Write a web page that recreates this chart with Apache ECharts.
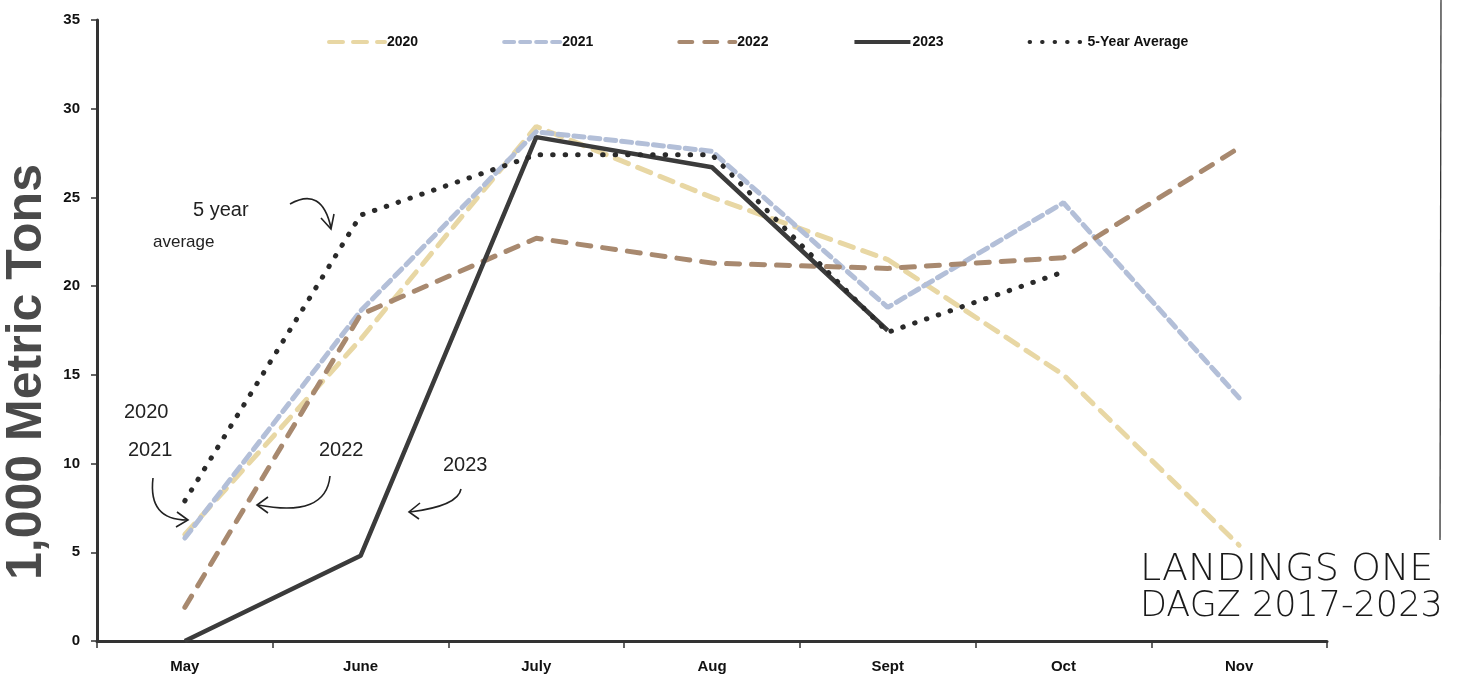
<!DOCTYPE html>
<html>
<head>
<meta charset="utf-8">
<script src="https://cdn.jsdelivr.net/npm/echarts@6/dist/echarts.min.js"></script>
<style>
  html, body { margin: 0; padding: 0; background: #fff; }
  #chart { width: 1475px; height: 684px; }
</style>
</head>
<body>
<div id="chart"></div>
<script>
// months on the x axis
let months = ['May', 'June', 'July', 'Aug', 'Sept', 'Oct', 'Nov'];

// landings, 1,000 metric tons
let y2020 = [6.0, 17.0, 29.0, 25.0, 21.5, 15.0, 5.4];
let y2021 = [5.8, 18.6, 28.7, 27.6, 18.8, 24.7, 13.7];
let y2022 = [1.9, 18.4, 22.7, 21.3, 21.0, 21.6, 27.8];
let y2023 = [0, 4.8, 28.4, 26.7, 17.5, null, null];
let avg5 = [7.9, 24.0, 27.4, 27.4, 17.4, 20.8, null];

let seriesNames = ['2020', '2021', '2022', '2023', '5-Year Average'];

let font = '"Liberation Sans Narrow", "Arial Narrow", "Liberation Sans", Arial, sans-serif';

let chart = echarts.init(document.getElementById('chart'));

// little helper for the hand drawn arrows
function arrow(x1, y1, cx, cy, x2, y2, head){
  return [
    {type:'bezierCurve', shape:{x1:x1, y1:y1, cpx1:cx, cpy1:cy, x2:x2, y2:y2},
     style:{stroke:'#222', lineWidth:1.6, fill:null}, z:50},
    {type:'polyline', shape:{points:head},
     style:{stroke:'#222', lineWidth:1.6, fill:null}, z:50}
  ];
}

let annot = [
  // axis title, sits a bit low on the scan so drawn by hand here
  {type:'text', x:27, y:372, rotation:Math.PI/2, z:50,
   style:{text:'1,000 Metric Tons', font:'bold 50px "Liberation Sans", Arial, sans-serif', fill:'#4a4a4a',
          align:'center', verticalAlign:'middle'}},
  {type:'text', left:193, top:200, z:50, style:{text:'5 year', font:'20px "Liberation Sans", Arial', fill:'#222'}},
  {type:'text', left:153, top:234, z:50, style:{text:'average', font:'17px "Liberation Sans", Arial', fill:'#222'}},
  {type:'text', left:124, top:402, z:50, style:{text:'2020', font:'20px "Liberation Sans", Arial', fill:'#222'}},
  {type:'text', left:128, top:440, z:50, style:{text:'2021', font:'20px "Liberation Sans", Arial', fill:'#222'}},
  {type:'text', left:319, top:440, z:50, style:{text:'2022', font:'20px "Liberation Sans", Arial', fill:'#222'}},
  {type:'text', left:443, top:455, z:50, style:{text:'2023', font:'20px "Liberation Sans", Arial', fill:'#222'}},
  {type:'text', left:1140, top:551, z:50, style:{text:'LANDINGS ONE', font:'300 38px "DejaVu Sans", sans-serif', fill:'#1a1a1a'}},
  {type:'text', left:1140, top:589, z:50, style:{text:'DAGZ 2017-2023', font:'300 35px "DejaVu Sans", sans-serif', fill:'#1a1a1a'}},
  // scan border on the right
  {type:'line', shape:{x1:1441, y1:0, x2:1440, y2:540}, style:{stroke:'#333', lineWidth:1.3}, z:50}
]
.concat(arrow(290, 204, 322, 186, 331, 228, [[321,218],[331,229],[334,214]]))
.concat(arrow(153, 478, 148, 520, 187, 520, [[177,512],[188,520],[176,527]]))
.concat(arrow(330, 476, 326, 518, 258, 505, [[268,497],[257,505],[268,513]]))
.concat(arrow(461, 489, 458, 506, 410, 512, [[420,503],[409,512],[419,519]]));

chart.setOption({
  animation:false,
  grid:{left:97, right:148, top:20, bottom:43, outerBoundsMode:'none', containLabel:false},
  legend:{
    data:seriesNames,
    top:30,
    left:322,
    itemWidth:56,
    itemHeight:10,
    itemGap:84,
    itemStyle:{opacity:0},
    lineStyle:{width:4},
    textStyle:{fontFamily:font, fontWeight:'bold', fontSize:14, color:'#111', padding:[0,0,0,-3]}
  },
  xAxis:{
    type:'category',
    data:months,
    boundaryGap:true,
    axisLine:{lineStyle:{color:'#333', width:3}},
    axisTick:{show:true, length:7, lineStyle:{color:'#333', width:1.5}},
    axisLabel:{fontFamily:font, fontWeight:'bold', fontSize:15, color:'#111', margin:18}
  },
  yAxis:{
    type:'value',
    min:0,
    max:35,
    interval:5,
    splitLine:{show:false},
    axisLine:{show:true, lineStyle:{color:'#333', width:3}},
    axisTick:{show:true, length:6, lineStyle:{color:'#333', width:1.5}},
    axisLabel:{fontFamily:font, fontWeight:'bold', fontSize:15, color:'#111', margin:17}
  },
  series:[
    {name:'2020', type:'line', data:y2020, symbol:'none', z:2,
     lineStyle:{color:'#e8d7a4', width:5, type:[14,10], cap:'round'}},
    {name:'2021', type:'line', data:y2021, symbol:'none', z:3,
     lineStyle:{color:'#b3bfd8', width:5, type:[10,6], cap:'round'}},
    {name:'2022', type:'line', data:y2022, symbol:'none', z:4,
     lineStyle:{color:'#a8896f', width:5, type:[13,12], cap:'round'}},
    {name:'2023', type:'line', data:y2023, symbol:'none', z:5,
     lineStyle:{color:'#3b3b3b', width:4.5}},
    {name:'5-Year Average', type:'line', data:avg5, symbol:'none', z:6,
     lineStyle:{color:'#2a2a2a', width:5, type:[0.5,12], cap:'round'}}
  ],
  graphic:annot
});
</script>
</body>
</html>
